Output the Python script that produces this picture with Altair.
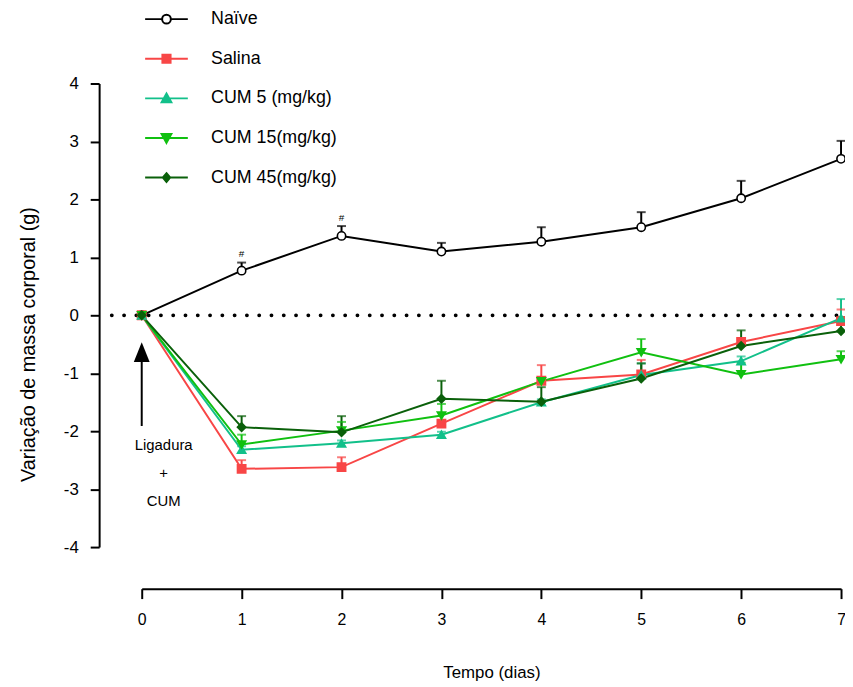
import altair as alt
import pandas as pd

# ---------------- data ----------------
dias = [0, 1, 2, 3, 4, 5, 6, 7]
grupos = ["Naïve", "Salina", "CUM 5 (mg/kg)", "CUM 15(mg/kg)", "CUM 45(mg/kg)"]

naive = [0, 0.77, 1.37, 1.10, 1.27, 1.52, 2.02, 2.70]
naive_err = [0, 0.14, 0.17, 0.15, 0.25, 0.26, 0.30, 0.31]
salina = [0, -2.65, -2.62, -1.87, -1.13, -1.02, -0.46, -0.10]
salina_err = [0, 0.15, 0.17, 0.05, 0.27, 0.25, 0.05, 0.20]
cum5 = [0, -2.32, -2.21, -2.06, -1.50, -1.03, -0.79, -0.05]
cum5_err = [0, 0.06, 0.05, 0.05, 0.05, 0.20, 0.08, 0.33]
cum15 = [0, -2.23, -1.99, -1.73, -1.14, -0.64, -1.02, -0.76]
cum15_err = [0, 0.17, 0.15, 0.20, 0.06, 0.23, 0.20, 0.14]
cum45 = [0, -1.93, -2.02, -1.44, -1.49, -1.09, -0.53, -0.27]
cum45_err = [0, 0.19, 0.28, 0.31, 0.25, 0.26, 0.27, 0.24]

series = [naive, salina, cum5, cum15, cum45]
errors = [naive_err, salina_err, cum5_err, cum15_err, cum45_err]

# annotations
sig_dias = [1, 2]
sig_valor = [1.06, 1.68]
anot_textos = ["Ligadura", "+", "CUM"]
anot_valor = [-2.24, -2.72, -3.20]
anot_dia = 0.22
seta_topo = -0.67
seta_ini = -0.80
seta_fim = -1.91
zero_ini = -0.30

# ---------------- styles ----------------
cores = ["#000000", "#f84646", "#12c08a", "#10c010", "#0a600a"]
preench = ["#ffffff", "#f84646", "#12c08a", "#10c010", "#0a600a"]
formas = ["circle", "square", "triangle-up", "triangle-down", "diamond"]
# legend glyphs: line + marker (markers filled by dense strokes)
formas_leg = [
    "M-2.2,0H-0.45M0.45,0H2.2M0.45,0A0.45,0.45,0,1,1,-0.45,0A0.45,0.45,0,1,1,0.45,0Z",
    "M-2.2,0H2.2M-0.42,-0.42H0.42V0.42H-0.42Z"
    "M-0.42,-0.26H0.42M-0.42,-0.1H0.42M-0.42,0.1H0.42M-0.42,0.26H0.42",
    "M-2.2,0H2.2M0,-0.5L0.5,0.4L-0.5,0.4Z"
    "M-0.06,-0.4H0.06M-0.14,-0.24H0.14M-0.23,-0.08H0.23M-0.32,0.08H0.32M-0.41,0.24H0.41",
    "M-2.2,0H2.2M0,0.5L0.5,-0.4L-0.5,-0.4Z"
    "M-0.06,0.4H0.06M-0.14,0.24H0.14M-0.23,0.08H0.23M-0.32,-0.08H0.32M-0.41,-0.24H0.41",
    "M-2.2,0H2.2M0,-0.45L0.38,0L0,0.45L-0.38,0Z"
    "M-0.13,-0.3H0.13M-0.25,-0.15H0.25M-0.25,0.15H0.25M-0.13,0.3H0.13",
]
FONT = "Liberation Sans"

rows = []
for g, vals, errs in zip(grupos, series, errors):
    for d, v, e in zip(dias, vals, errs):
        rows.append({"grupo": g, "dia": d, "valor": v, "erro": e, "topo": v + e})
df = pd.DataFrame(rows)
err_df = df[df["erro"] > 0].copy()

xaxis = alt.Axis(values=dias, offset=42, domainWidth=2, tickWidth=2, tickSize=10,
                 labelFontSize=16, labelPadding=13, titleFontSize=17, titlePadding=38,
                 labelFlush=False)
yaxis = alt.Axis(values=[-4, -3, -2, -1, 0, 1, 2, 3, 4], offset=43, domainWidth=2,
                 tickWidth=2, tickSize=9, labelFontSize=17, labelPadding=12,
                 titleFontSize=20, titlePadding=25, labelExpr="'' + datum.value",
                 titleY=263)
XT = "Tempo (dias)"
YT = "Variação de massa corporal (g)"


def X(field="dia"):
    return alt.X(f"{field}:Q", scale=alt.Scale(domain=[0, 7], nice=False, zero=False),
                 axis=xaxis, title=XT)


def Y(field="valor"):
    return alt.Y(f"{field}:Q", scale=alt.Scale(domain=[-4, 4], nice=False),
                 axis=yaxis, title=YT)


cor = alt.Color("grupo:N", scale=alt.Scale(domain=grupos, range=cores), legend=None)

# dotted zero line
zero_df = pd.DataFrame({"dia": [zero_ini], "dia2": [7], "valor": [0]})
zero = alt.Chart(zero_df).mark_rule(
    strokeDash=[0.1, 12.3], strokeCap="round", strokeWidth=3.8, color="black"
).encode(x=X(), x2="dia2:Q", y=Y())

err_rule = alt.Chart(err_df).mark_rule(strokeWidth=2).encode(
    x=X(), y=Y(), y2="topo:Q", color=cor)
err_cap = alt.Chart(err_df).mark_tick(orient="horizontal", size=9, thickness=2).encode(
    x=X(), y=Y("topo"), color=cor)

lines = alt.Chart(df).mark_line(strokeWidth=2).encode(
    x=X(), y=Y(), color=cor, detail="grupo:N")

pts = alt.Chart(df).mark_point(filled=True, size=70, strokeWidth=1.6, opacity=1).encode(
    x=X(), y=Y(),
    shape=alt.Shape("grupo:N", scale=alt.Scale(domain=grupos, range=formas), legend=None),
    fill=alt.Fill("grupo:N", scale=alt.Scale(domain=grupos, range=preench), legend=None),
    stroke=alt.Stroke("grupo:N", scale=alt.Scale(domain=grupos, range=cores), legend=None),
)

# arrow annotation
seta_df = pd.DataFrame({"dia": [0], "valor": [seta_ini], "fim": [seta_fim]})
seta_linha = alt.Chart(seta_df).mark_rule(strokeWidth=2, color="black").encode(
    x=X(), y=Y(), y2="fim:Q")
ponta_df = pd.DataFrame({"dia": [0], "valor": [seta_topo]})
seta_ponta = alt.Chart(ponta_df).mark_point(
    shape="M0,-1.2L0.8,0.8L-0.8,0.8Z", size=400, filled=True, color="black", opacity=1
).encode(x=X(), y=Y())

anot_df = pd.DataFrame({"dia": [anot_dia] * 3, "valor": anot_valor, "txt": anot_textos})
anot = alt.Chart(anot_df).mark_text(font=FONT, fontSize=15, color="black").encode(
    x=X(), y=Y(), text="txt:N")

sig_df = pd.DataFrame({"dia": sig_dias, "valor": sig_valor, "txt": ["#", "#"]})
sig = alt.Chart(sig_df).mark_text(font=FONT, fontSize=10, color="black").encode(
    x=X(), y=Y(), text="txt:N")

# legend carrier (invisible)
leg = alt.Legend(title=None, orient="none", legendX=14, legendY=-76, symbolSize=384,
                 symbolStrokeWidth=2, labelFontSize=18, labelFont=FONT, labelColor="black",
                 labelOffset=34, rowPadding=20, padding=0, labelLimit=400)
leg_df = pd.DataFrame({"grupo": grupos, "dia": [0] * 5, "valor": [0] * 5})
leg_layer = alt.Chart(leg_df).mark_point(filled=False, opacity=0).encode(
    x=X(), y=Y(),
    shape=alt.Shape("grupo:N", scale=alt.Scale(domain=grupos, range=formas_leg), legend=leg),
    stroke=alt.Stroke("grupo:N", scale=alt.Scale(domain=grupos, range=cores), legend=leg),
)

chart = alt.layer(
    zero, err_rule, err_cap, lines, pts, seta_linha, seta_ponta, anot, sig, leg_layer
).resolve_scale(
    shape="independent", fill="independent", stroke="independent"
).properties(
    width=706, height=468,
    autosize=alt.AutoSizeParams(type="none"),
    padding={"left": 135, "top": 73, "right": 4, "bottom": 136},
).configure_view(stroke=None).configure_axis(
    grid=False, domainColor="black", tickColor="black", labelColor="black",
    titleColor="black", labelFont=FONT, titleFont=FONT, titleFontWeight="normal",
)

chart.save("out.html", embed_options={"renderer": "svg", "actions": False})
